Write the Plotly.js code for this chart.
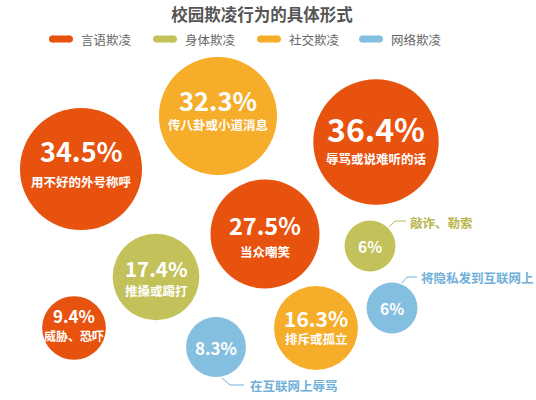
<!DOCTYPE html>
<html>
<head>
<meta charset="utf-8">
<script src="https://cdn.plot.ly/plotly-3.0.1.min.js"></script>
<style>html,body{margin:0;padding:0;background:#fff;}#chart{width:536px;height:400px;}</style>
</head>
<body>
<div id="chart"></div>
<script>
// ---- data ----
var categories = ['言语欺凌', '身体欺凌', '社交欺凌', '网络欺凌'];
var labels = ['辱骂或说难听的话', '用不好的外号称呼', '传八卦或小道消息', '当众嘲笑', '推搡或踢打', '排斥或孤立', '威胁、恐吓', '在互联网上辱骂', '敲诈、勒索', '将隐私发到互联网上'];
var values = [36.4, 34.5, 32.3, 27.5, 17.4, 16.3, 9.4, 8.3, 6, 6];
var valueLabels = ['36.4%', '34.5%', '32.3%', '27.5%', '17.4%', '16.3%', '9.4%', '8.3%', '6%', '6%'];
var itemCategory = ['言语欺凌', '言语欺凌', '社交欺凌', '言语欺凌', '身体欺凌', '社交欺凌', '言语欺凌', '网络欺凌', '身体欺凌', '网络欺凌'];

// ---- layout (bubble placement, styles) ----
var posX = [376, 81, 218, 265, 156, 316, 74, 216, 370, 392];
var posY = [142, 169, 116, 234, 277, 328, 328, 347, 246, 308];
var numSize = [32, 27, 25.5, 23.5, 20.5, 21, 17, 17, 15.5, 15.5];
var numShift = [14, 19, 17, 9, 9, 10, 13, 0, 0, 0];
var labShift = [-16, -12, -8, -17, -13, -10, -7, 0, 0, 0];
var labSize = [12.5, 12.5, 12.5, 12.5, 12.5, 12.5, 12, 12.5, 12.5, 12.5];
var outside = [false, false, false, false, false, false, false, true, true, true];
var colors = {'言语欺凌': '#e8520f', '身体欺凌': '#c3c25a', '社交欺凌': '#f6ad2a', '网络欺凌': '#84bfe0'};
var textColors = {'身体欺凌': '#b9b64c', '网络欺凌': '#6fb0d8'};
var outLabelPos = {7: [248, 385], 8: [408, 222], 9: [419, 277]};
var leaderPaths = {7: 'M222,378 L230,385 L244,385', 8: 'M389,227 L395,221 L406,221', 9: 'M402,283 L407,277 L417,277'};
var legendX = [49, 153, 257, 359];
var legendY = 39;

var FONT = '"Noto Sans CJK SC", "Microsoft YaHei", sans-serif';

var traces = categories.map(function (cat) {
  var xs = [], ys = [], ss = [], tx = [];
  for (var i = 0; i < values.length; i++) {
    if (itemCategory[i] === cat) {
      xs.push(posX[i]); ys.push(posY[i]); ss.push(values[i]); tx.push(labels[i] + ': ' + valueLabels[i]);
    }
  }
  return {
    type: 'scatter', mode: 'markers', name: cat, x: xs, y: ys, text: tx,
    hoverinfo: 'text',
    marker: {size: ss, sizemode: 'area', sizeref: 1 / 216, color: colors[cat], opacity: 1, line: {width: 0}},
    showlegend: false
  };
});

var annotations = [];
var shapes = [];
for (var i = 0; i < values.length; i++) {
  annotations.push({
    x: posX[i], y: posY[i], xref: 'x', yref: 'y', showarrow: false, borderpad: 0,
    text: '<b>' + valueLabels[i] + '</b>', yshift: numShift[i],
    font: {family: FONT, size: numSize[i], color: '#ffffff'}
  });
  if (!outside[i]) {
    annotations.push({
      x: posX[i], y: posY[i], xref: 'x', yref: 'y', showarrow: false, borderpad: 0,
      text: '<b>' + labels[i] + '</b>', yshift: labShift[i],
      font: {family: FONT, size: labSize[i], color: '#ffffff'}
    });
  } else {
    var p = outLabelPos[i];
    annotations.push({
      x: p[0], y: p[1], xref: 'x', yref: 'y', showarrow: false, xanchor: 'left',
      text: '<b>' + labels[i] + '</b>',
      font: {family: FONT, size: 12.5, color: textColors[itemCategory[i]]}
    });
    shapes.push({type: 'path', xref: 'x', yref: 'y', path: leaderPaths[i],
      line: {color: textColors[itemCategory[i]], width: 1}});
  }
}

// custom legend with pill symbols
categories.forEach(function (cat, k) {
  var x0 = legendX[k], w = 24, h = 7, r = h / 2;
  shapes.push({type: 'rect', xref: 'x', yref: 'y', x0: x0 + r, x1: x0 + w - r, y0: legendY - r, y1: legendY + r,
    fillcolor: colors[cat], line: {width: 0}});
  shapes.push({type: 'circle', xref: 'x', yref: 'y', x0: x0, x1: x0 + h, y0: legendY - r, y1: legendY + r,
    fillcolor: colors[cat], line: {width: 0}});
  shapes.push({type: 'circle', xref: 'x', yref: 'y', x0: x0 + w - h, x1: x0 + w, y0: legendY - r, y1: legendY + r,
    fillcolor: colors[cat], line: {width: 0}});
  annotations.push({x: x0 + w + 6, y: legendY, xref: 'x', yref: 'y', showarrow: false, xanchor: 'left',
    text: cat, font: {family: FONT, size: 12.5, color: '#666666'}});
});

var layout = {
  width: 536, height: 400, autosize: false,
  margin: {l: 0, r: 0, t: 0, b: 0, pad: 0},
  paper_bgcolor: '#ffffff', plot_bgcolor: '#ffffff',
  title: {text: '<b>校园欺凌行为的具体形式</b>', x: 0.489, xanchor: 'center', y: 0.962, yanchor: 'middle',
    font: {family: FONT, size: 16.5, color: '#555555'}},
  xaxis: {range: [0, 536], visible: false, fixedrange: true},
  yaxis: {range: [400, 0], visible: false, fixedrange: true},
  shapes: shapes,
  annotations: annotations,
  hovermode: 'closest'
};

Plotly.newPlot('chart', traces, layout, {displayModeBar: false});
</script>
</body>
</html>
